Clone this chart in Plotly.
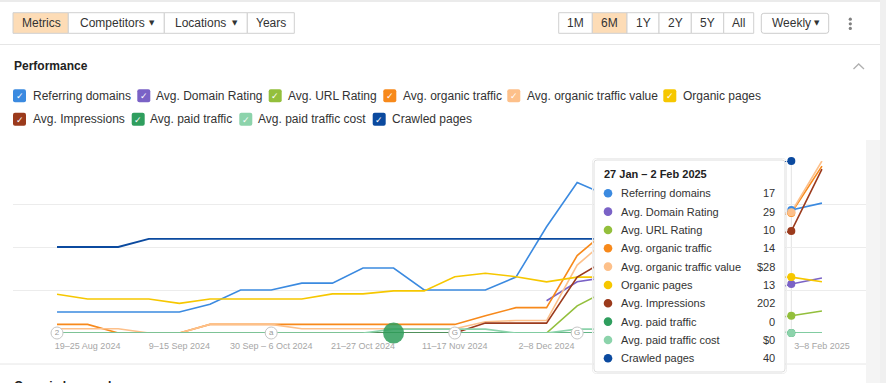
import plotly.graph_objects as go

# ---------------- data ----------------
weeks = ["2024-08-12", "2024-08-19", "2024-08-26", "2024-09-02", "2024-09-09", "2024-09-16",
         "2024-09-23", "2024-09-30", "2024-10-07", "2024-10-14", "2024-10-21", "2024-10-28",
         "2024-11-04", "2024-11-11", "2024-11-18", "2024-11-25", "2024-12-02", "2024-12-09",
         "2024-12-16", "2024-12-23", "2024-12-30", "2025-01-06", "2025-01-13", "2025-01-20",
         "2025-01-27", "2025-02-03"]

# tick labels visible in the reference (the ones under the tooltip are hidden there)
tick_vals = ["2024-08-19", "2024-09-09", "2024-09-30", "2024-10-21", "2024-11-11",
             "2024-12-02", "2025-02-03"]
tick_text = ["19–25 Aug 2024", "9–15 Sep 2024", "30 Sep – 6 Oct 2024", "21–27 Oct 2024",
             "11–17 Nov 2024", "2–8 Dec 2024", "3–8 Feb 2025"]

# values in normalised chart units (each metric has its own scale in the original)
referring_domains = [0.49, 0.49, 0.49, 0.49, 0.49, 0.67, 1.0, 1.0, 1.16, 1.16, 1.51, 1.51, 1.0,
                     1.0, 1.0, 1.30, 2.47, 3.50, 3.19, 3.05, 2.9, 2.75, 2.6, 2.42, 2.86, 3.02]
domain_rating = [None] * 16 + [0.75, 1.19, 1.30, 1.2, 1.15, 1.1, 1.0, 0.93, 1.14, 1.28]
url_rating = [None] * 16 + [0.0, 0.63, 1.0, 0.85, 0.75, 0.6, 0.45, 0.30, 0.40, 0.51]
organic_traffic = [0.2, 0.2, 0, 0, 0, 0.2, 0.2, 0.2, 0.2, 0.2, 0.2, 0.2, 0.2, 0.2, 0.40, 0.59,
                   0.59, 1.80, 2.40, 2.5, 2.45, 2.5, 2.6, 2.70, 2.79, 3.88]
organic_traffic_value = [0.1, 0.1, 0.1, 0, 0, 0.2, 0.2, 0.2, 0.1, 0.1, 0.1, 0.1, 0.1, 0.1, 0.26,
                         0.29, 0.29, 1.58, 2.19, 2.3, 2.35, 2.45, 2.55, 2.67, 2.81, 4.0]
organic_pages = [0.90, 0.79, 0.79, 0.79, 0.69, 0.79, 0.79, 0.79, 0.79, 0.91, 0.91, 0.98, 0.98,
                 1.31, 1.39, 1.31, 1.19, 1.30, 1.30, 1.30, 1.30, 1.30, 1.30, 1.30, 1.30, 1.19]
impressions = [0] * 13 + [0.0, 0.23, 0.23, 0.23, 1.30, 1.72, 1.8, 1.9, 2.0, 2.1, 2.21, 2.37, 3.81]
paid_traffic = [0] * 26
paid_traffic_cost = [0] * 11 + [0.09, 0.09, 0.09, 0.09, 0, 0, 0.09, 0.09, 0.09, 0.09, 0.09,
                                0.09, 0.09, 0, 0]
crawled_pages = [2.0, 2.0, 2.0] + [2.19] * 18 + [4.0, 4.0, 4.0, 4.0] + [None]

series_names = ["Referring domains", "Avg. Domain Rating", "Avg. URL Rating", "Avg. organic traffic",
                "Avg. organic traffic value", "Organic pages", "Avg. Impressions", "Avg. paid traffic",
                "Avg. paid traffic cost", "Crawled pages"]
series_values = [referring_domains, domain_rating, url_rating, organic_traffic, organic_traffic_value,
                 organic_pages, impressions, paid_traffic, paid_traffic_cost, crawled_pages]
series_colors = ["#3b8ae0", "#7a62c6", "#93bf3c", "#f7891b", "#fdc08a", "#f6c700", "#9b3a1c",
                 "#2f9e5e", "#8cd3ab", "#0b4a9f"]

hover_index = 24
hover_title = "27 Jan – 2 Feb 2025"
tooltip_values = ["17", "29", "10", "14", "$28", "13", "202", "0", "$0", "40"]

event_index = [0, 7, 13, 17]
event_labels = ["2", "a", "G", "G"]
highlight_index = 11

# ---------------- geometry helpers ----------------
W, H = 886, 383
PL, PR, PT, PB = 13, 866, 161, 333
FONT = "Liberation Sans, Arial, sans-serif"


def X(px):
    return (px - PL) / (PR - PL)


def Y(py):
    return (PB - py) / (PB - PT)


shapes = []
annotations = []


def rect(x0, y0, x1, y1, fill=None, line=None, lw=1, layer="above"):
    shapes.append(dict(type="rect", xref="paper", yref="paper", x0=X(x0), x1=X(x1), y0=Y(y1), y1=Y(y0),
                       fillcolor=fill or "rgba(0,0,0,0)",
                       line=dict(color=line or "rgba(0,0,0,0)", width=lw if line else 0), layer=layer))


def rrect(x0, y0, x1, y1, r, fill=None, line=None, lw=1):
    def p(a, b):
        return f"{X(a):.5f},{Y(b):.5f}"
    path = (f"M {p(x0 + r, y0)} L {p(x1 - r, y0)} Q {p(x1, y0)} {p(x1, y0 + r)} "
            f"L {p(x1, y1 - r)} Q {p(x1, y1)} {p(x1 - r, y1)} L {p(x0 + r, y1)} "
            f"Q {p(x0, y1)} {p(x0, y1 - r)} L {p(x0, y0 + r)} Q {p(x0, y0)} {p(x0 + r, y0)} Z")
    shapes.append(dict(type="path", xref="paper", yref="paper", path=path,
                       fillcolor=fill or "rgba(0,0,0,0)",
                       line=dict(color=line or "rgba(0,0,0,0)", width=lw if line else 0), layer="above"))


def circle(cx, cy, r, fill):
    shapes.append(dict(type="circle", xref="paper", yref="paper", x0=X(cx - r), x1=X(cx + r),
                       y0=Y(cy + r), y1=Y(cy - r), fillcolor=fill, line=dict(width=0), layer="above"))


def seg(xa, ya, xb, yb, color, lw=1):
    shapes.append(dict(type="line", xref="paper", yref="paper", x0=X(xa), x1=X(xb), y0=Y(ya), y1=Y(yb),
                       line=dict(color=color, width=lw), layer="above"))


def text(px, py, s, size=12, color="#333333", bold=False, xanchor="left", family=FONT, yanchor="middle"):
    annotations.append(dict(xref="paper", yref="paper", x=X(px), y=Y(py),
                            text=f"<b>{s}</b>" if bold else s, showarrow=False, xanchor=xanchor,
                            yanchor=yanchor, borderpad=0, font=dict(size=size, color=color, family=family)))


# ---------------- page chrome ----------------
rect(0, 0, 886, 2, fill="#ebebeb", layer="below")
rect(880, 0, 886, 383, fill="#f0f0f0", layer="below")
rect(866, 140, 880, 383, fill="#f4f4f4", layer="below")
seg(0, 44.5, 880, 44.5, "#e6e6e6", 1)

# toolbar buttons left
left_edges = [13, 68.3, 164.3, 247.3, 294.3]
left_labels = ["Metrics", "Competitors", "Locations", "Years"]
for i, lab in enumerate(left_labels):
    rect(left_edges[i], 12.7, left_edges[i + 1], 33.3,
         fill="#fddcb6" if i == 0 else "white", line="#d0d0d0", lw=1)
text(41, 23.5, "Metrics", xanchor="center")
text(78.5, 23.5, "Competitors")
text(152.3, 23.5, "▼", size=7, family="DejaVu Sans", xanchor="center")
text(174, 23.5, "Locations")
text(235, 23.5, "▼", size=7, family="DejaVu Sans", xanchor="center")
text(270.8, 23.5, "Years", xanchor="center")

right_edges = [558.7, 592.3, 627, 659, 691.3, 723.7, 753.7]
right_labels = ["1M", "6M", "1Y", "2Y", "5Y", "All"]
for i, lab in enumerate(right_labels):
    rect(right_edges[i], 12.7, right_edges[i + 1], 33.3,
         fill="#fddcb6" if lab == "6M" else "white", line="#d0d0d0", lw=1)
    text((right_edges[i] + right_edges[i + 1]) / 2, 23.5, lab, xanchor="center")
rrect(761.3, 13.3, 828.7, 33.3, 2.5, fill="white", line="#cccccc")
text(770.7, 23.5, "Weekly")
text(816.5, 23.5, "▼", size=7, family="DejaVu Sans", xanchor="center")
for yy in (19.2, 23.8, 28.4):
    circle(850.3, yy, 1.6, "#808080")

# section title + chevron
text(13, 66.5, "Performance", size=12, bold=True, color="#222222")
shapes.append(dict(type="path", xref="paper", yref="paper",
                   path=f"M {X(853.5)},{Y(69)} L {X(858.7)},{Y(64)} L {X(864)},{Y(69)}",
                   line=dict(color="#b0b0b0", width=1.3), layer="above"))

# custom legend (checkbox + label)
legend_pos = [(13, 31.7, 95.7), (137.3, 155.3, 95.7), (268.7, 287.3, 95.7), (383.3, 401.7, 95.7),
              (507.3, 526.3, 95.7), (663.3, 682, 95.7),
              (13, 31.7, 119.3), (131.7, 149, 119.3), (239.3, 257.3, 119.3), (372.7, 390.7, 119.3)]
for (bx, tx, ty), name, col in zip(legend_pos, series_names, series_colors):
    rrect(bx, ty - 6.5, bx + 13, ty + 6.5, 2, fill=col)
    text(bx + 6.5, ty + 0.5, "✓", size=9, color="white", bold=True, family="DejaVu Sans", xanchor="center")
    text(tx, ty, name, size=12, color="#333333")

# bottom section
seg(0, 364, 866, 364, "#e6e6e6", 1)
text(13, 377.5, "Organic keywords", size=12, bold=True, color="#222222", yanchor="top")

# ---------------- chart ----------------
fig = go.Figure()

for name, vals, col in zip(series_names, series_values, series_colors):
    fig.add_trace(go.Scatter(x=weeks, y=vals, mode="lines", name=name,
                             line=dict(color=col, width=1.9 if name == "Crawled pages" else 1.6),
                             connectgaps=False, hoverinfo="skip"))

# highlighted point
fig.add_trace(go.Scatter(x=[weeks[highlight_index]], y=[paid_traffic[highlight_index]], mode="markers",
                         marker=dict(size=21, color="#2e9e5b", opacity=0.85), cliponaxis=False,
                         hoverinfo="skip"))

# event markers on the axis
fig.add_trace(go.Scatter(x=[weeks[i] for i in event_index], y=[0] * len(event_index),
                         mode="markers+text", text=event_labels, textposition="middle center",
                         textfont=dict(size=8, color="#9a9a9a", family=FONT),
                         marker=dict(size=12, color="white", line=dict(color="#c6c6c6", width=1)),
                         cliponaxis=False, hoverinfo="skip"))

# hover dots
hx, hy, hc = [], [], []
for vals, col in zip(series_values, series_colors):
    v = vals[hover_index]
    if v is not None:
        hx.append(weeks[hover_index])
        hy.append(v)
        hc.append(col)
fig.add_trace(go.Scatter(x=hx, y=hy, mode="markers", marker=dict(size=8, color=hc),
                         cliponaxis=False, hoverinfo="skip"))

# hover guide line
shapes.insert(0, dict(type="line", xref="x", yref="paper", x0=weeks[hover_index], x1=weeks[hover_index],
                      y0=0, y1=1, line=dict(color="#e2e2e2", width=1), layer="below"))

# tooltip
rrect(592.5, 158.5, 786.5, 373.5, 4, fill="rgba(0,0,0,0)", line="#eeeeee", lw=1)
rrect(594, 160, 785, 372, 3, fill="white", line="#dedede", lw=1)
text(603, 174, hover_title, size=11, bold=True, color="#222222")
for k, (name, col, val) in enumerate(zip(series_names, series_colors, tooltip_values)):
    ry = 193.3 + k * 18.33
    circle(608, ry, 4.3, col)
    text(620, ry, name, size=11, color="#333333")
    text(776, ry, val, size=11, color="#333333", xanchor="right")

fig.update_layout(
    width=W, height=H, autosize=False,
    margin=dict(l=PL, r=W - PR, t=PT, b=H - PB, pad=0),
    paper_bgcolor="white", plot_bgcolor="white",
    showlegend=False, hovermode=False,
    font=dict(family=FONT),
    xaxis=dict(type="date", range=["2024-08-01 22:19", "2025-02-13 01:55"],
               tickvals=tick_vals, ticktext=tick_text, showgrid=False, zeroline=False,
               showline=False, ticks="outside", ticklen=4, tickcolor="rgba(0,0,0,0)",
               tickfont=dict(size=9, color="#a6a6a6", family=FONT), fixedrange=True),
    yaxis=dict(range=[0, 4], tickvals=[0, 1, 2, 3, 4], showticklabels=False, showgrid=True,
               gridcolor="#ececec", gridwidth=1, zeroline=False, showline=False, fixedrange=True),
    shapes=shapes, annotations=annotations,
)

fig.write_html("out.html", config={"displayModeBar": False, "staticPlot": True},
               post_script="document.body.style.margin='0';document.body.style.overflow='hidden';")
